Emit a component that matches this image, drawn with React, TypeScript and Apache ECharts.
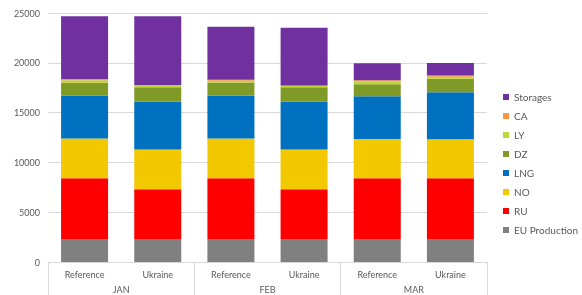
import React, { useEffect, useRef } from "react";
import * as echarts from "echarts";

const scenarios = ["Reference", "Ukraine", "Reference", "Ukraine", "Reference", "Ukraine"];
const months = ["JAN", "FEB", "MAR"];

const euProduction = [2300, 2300, 2300, 2300, 2300, 2300];
const ru = [6100, 5000, 6100, 5000, 6100, 6100];
const no = [4000, 4000, 4000, 4000, 3950, 3920];
const lng = [4300, 4800, 4300, 4800, 4300, 4730];
const dz = [1300, 1450, 1330, 1450, 1200, 1340];
const ly = [250, 150, 180, 110, 300, 200];
const ca = [120, 80, 100, 50, 100, 130];
const storages = [6300, 6900, 5300, 5800, 1700, 1250];

const seriesDefs = [
  { name: "EU Production", data: euProduction, color: "#808080" },
  { name: "RU", data: ru, color: "#FF0000" },
  { name: "NO", data: no, color: "#F2C800" },
  { name: "LNG", data: lng, color: "#0070C0" },
  { name: "DZ", data: dz, color: "#7F9A26" },
  { name: "LY", data: ly, color: "#BCD63A" },
  { name: "CA", data: ca, color: "#F79646" },
  { name: "Storages", data: storages, color: "#7030A0" },
];

const FONT = "Lato";

export default function App() {
  const ref = useRef<HTMLDivElement>(null);
  useEffect(() => {
    if (!ref.current) return;
    const chart = echarts.init(ref.current, undefined, { renderer: "svg" });
    chart.setOption({
      animation: false,
      textStyle: { fontFamily: FONT },
      grid: { left: 48, right: 95, top: 13, bottom: 33, containLabel: false, outerBoundsMode: "none" },
      legend: {
        orient: "vertical",
        left: 498,
        top: 86,
        itemWidth: 6,
        itemHeight: 6,
        itemGap: 7,
        icon: "rect",
        textStyle: { fontFamily: FONT, fontSize: 10, color: "#595959", lineHeight: 12 },
        data: ["Storages", "CA", "LY", "DZ", "LNG", "NO", "RU", "EU Production"],
      },
      xAxis: [
        {
          type: "category",
          data: scenarios,
          position: "bottom",
          axisLine: { show: true, lineStyle: { color: "#D9D9D9" } },
          axisTick: { show: false },
          axisLabel: { color: "#595959", fontSize: 9, margin: 8, fontFamily: FONT, interval: 0 },
        },
        {
          type: "category",
          data: months,
          position: "bottom",
          axisLine: { show: true, lineStyle: { color: "#D9D9D9" } },
          axisTick: { show: true, length: 40, lineStyle: { color: "#D9D9D9" } },
          axisLabel: { color: "#595959", fontSize: 9, margin: 22, lineHeight: 10, fontFamily: FONT, interval: 0 },
        },
      ],
      yAxis: {
        type: "value",
        min: 0,
        max: 25000,
        interval: 5000,
        axisLine: { show: false },
        axisTick: { show: false },
        axisLabel: { color: "#595959", fontSize: 9, margin: 8, fontFamily: FONT, formatter: (v: number) => String(v) },
        splitLine: { lineStyle: { color: "#D9D9D9" } },
      },
      series: seriesDefs.map((s) => ({
        name: s.name,
        type: "bar",
        stack: "total",
        xAxisIndex: 0,
        data: s.data,
        barWidth: 47,
        itemStyle: { color: s.color },
      })),
    });
    return () => chart.dispose();
  }, []);
  return <div ref={ref} style={{ position: "fixed", left: 0, top: 0, width: 582, height: 295 }} />;
}
